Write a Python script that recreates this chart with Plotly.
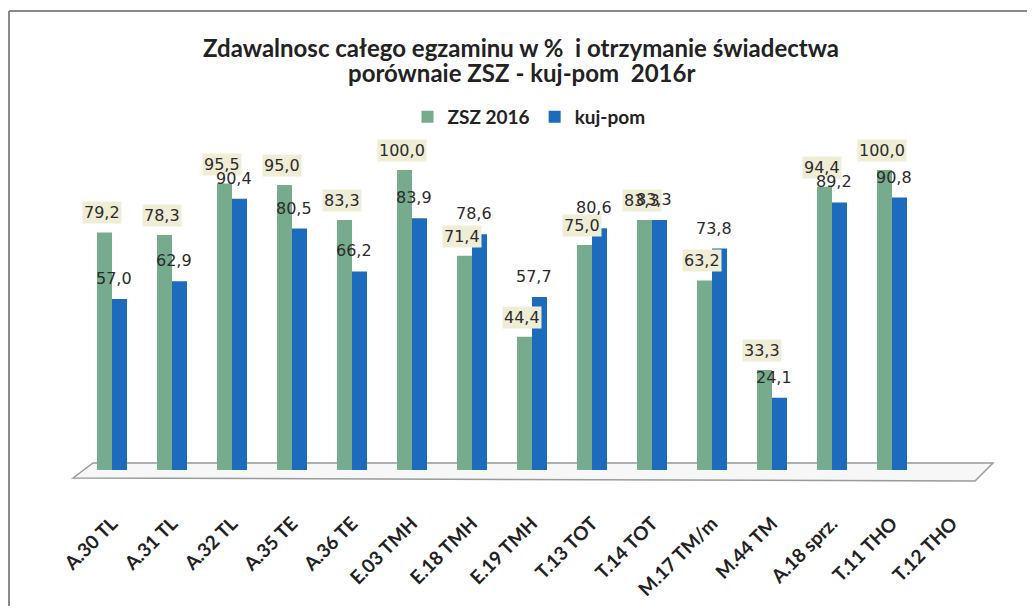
import plotly.graph_objects as go

categories = ["A.30 TL", "A.31 TL", "A.32 TL", "A.35 TE", "A.36 TE", "E.03 TMH", "E.18 TMH",
              "E.19 TMH", "T.13 TOT", "T.14 TOT", "M.17 TM/m", "M.44 TM", "A.18 sprz.",
              "T.11 THO", "T.12 THO"]
zsz_2016 = [79.2, 78.3, 95.5, 95.0, 83.3, 100.0, 71.4, 44.4, 75.0, 83.3, 63.2, 33.3, 94.4, 100.0, None]
kuj_pom = [57.0, 62.9, 90.4, 80.5, 66.2, 83.9, 78.6, 57.7, 80.6, 83.3, 73.8, 24.1, 89.2, 90.8, None]

# page has an 8px body margin; figure sized so no scrollbars appear
OFF = 8
W, H = 1019, 598
# plot area in screen pixels
SX0, SX1, SY0, SY1 = 82, 982, 140, 470
L, R = SX0 - OFF, W - (SX1 - OFF)
T, B = SY0 - OFF, H - (SY1 - OFF)
PW = SX1 - SX0
PH = SY1 - SY0


def px(x):
    return (x - SX0) / PW


def py(y):
    return (SY1 - y) / PH


GREEN = "#77ab8e"
BLUE = "#1d6bbc"
TXT = "#222222"

fig = go.Figure()
fig.add_trace(go.Bar(x=categories, y=zsz_2016, name="ZSZ 2016", marker_color=GREEN,
                     marker_line_width=0))
fig.add_trace(go.Bar(x=categories, y=kuj_pom, name="kuj-pom", marker_color=BLUE,
                     marker_line_width=0))


def fmt(v):
    return f"{v:.1f}".replace(".", ",")


annotations = []
for c, v in zip(categories, zsz_2016):
    if v is None:
        continue
    annotations.append(dict(x=c, y=v, xref="x", yref="y", text=fmt(v), showarrow=False,
                            yanchor="bottom", yshift=8, xshift=-10,
                            bgcolor="#efedd6", borderpad=1,
                            font=dict(family="DejaVu Sans", size=16, color="#2b2b2b")))
for c, v in zip(categories, kuj_pom):
    if v is None:
        continue
    annotations.append(dict(x=c, y=v, xref="x", yref="y", text=fmt(v), showarrow=False,
                            yanchor="bottom", yshift=9, xshift=2,
                            font=dict(family="DejaVu Sans", size=16, color="#2b2b2b")))

title_lines = ["Zdawalnosc całego egzaminu w %  i otrzymanie świadectwa",
               "porównaie ZSZ - kuj-pom  2016r"]
for line, ys in zip(title_lines, [47, 72]):
    annotations.append(dict(x=px(521), y=py(ys), xref="paper", yref="paper", text=line,
                            showarrow=False, xanchor="center", yanchor="middle",
                            font=dict(family="Lato", size=24, color=TXT, weight="bold")))

floor_path = (f"M {px(73)},{py(478)} L {px(93)},{py(463)} L {px(993)},{py(463)} "
              f"L {px(975)},{py(481)} Z")

shapes = [
    dict(type="path", xref="paper", yref="paper", path=floor_path,
         line=dict(color="#9a9a9a", width=1.5), fillcolor="#f7f7f7", layer="below"),
    dict(type="line", xref="paper", yref="paper", x0=px(9), x1=px(9), y0=py(11), y1=py(640),
         line=dict(color="#8a8a8a", width=2), layer="below"),
    dict(type="line", xref="paper", yref="paper", x0=px(9), x1=px(1060), y0=py(11), y1=py(11),
         line=dict(color="#8a8a8a", width=2), layer="below"),
]

fig.update_layout(
    width=W, height=H, autosize=False,
    margin=dict(l=L, r=R, t=T, b=B, autoexpand=False),
    paper_bgcolor="white", plot_bgcolor="white",
    barmode="group", bargap=0.5, bargroupgap=0,
    legend=dict(orientation="h", x=px(529), xanchor="center", y=py(117), yanchor="middle",
                font=dict(family="Lato", size=19, color=TXT, weight="bold"),
                bgcolor="rgba(0,0,0,0)", itemwidth=30),
    xaxis=dict(showline=False, showgrid=False, zeroline=False, tickangle=-45,
               ticks="outside", ticklen=34, tickcolor="rgba(0,0,0,0)", automargin=False,
               tickfont=dict(family="Lato", size=19, color=TXT, weight="bold"),
               categoryorder="array", categoryarray=categories),
    yaxis=dict(range=[0, 110], showticklabels=False, showgrid=False, zeroline=False,
               showline=False, automargin=False),
    annotations=annotations,
    shapes=shapes,
    showlegend=True,
)
fig.update_traces(hoverinfo="skip")

fig.write_html("out.html")
